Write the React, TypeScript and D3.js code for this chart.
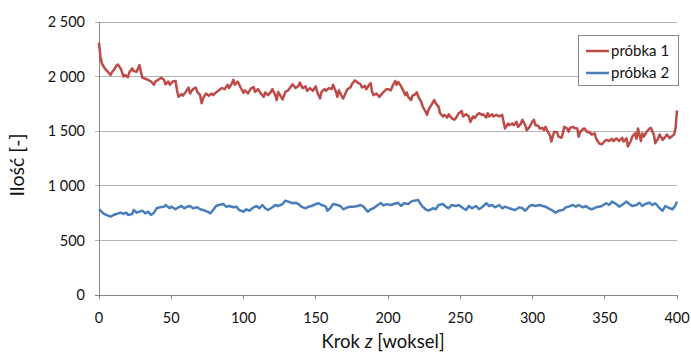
import React from 'react';
import * as d3 from 'd3';

// [krok z, ilość]
const probka1: [number, number][] = [
  [0,2310],[1,2180],[2,2120],[4,2075],[6,2045],[8,2015],[9,2040],[11,2075],[12,2100],[13,2110],[15,2075],[17,2000],[18,2015],[20,1995],[21,2040],[23,2075],[24,2050],[26,2045],[28,2105],[29,2045],[30,1990],[32,1980],[34,1970],[36,1955],[38,1925],[39,1955],[41,1970],[43,1990],[45,1970],[46,1930],[48,1955],[49,1925],[51,1955],[53,1960],[54,1875],[55,1815],[57,1840],[58,1825],[60,1860],[62,1900],[63,1845],[65,1885],[67,1900],[68,1860],[70,1830],[71,1755],[72,1800],[74,1845],[76,1825],[78,1845],[79,1830],[81,1855],[83,1875],[85,1895],[87,1885],[89,1925],[90,1895],[92,1940],[93,1970],[94,1925],[96,1955],[98,1900],
  [100,1850],[101,1875],[103,1845],[105,1890],[107,1905],[108,1860],[110,1885],[112,1845],[114,1815],[115,1855],[117,1830],[119,1860],[120,1885],[122,1830],[123,1785],[124,1860],[126,1815],[127,1790],[129,1860],[131,1875],[132,1895],[134,1930],[136,1895],[138,1915],[139,1945],[141,1895],[143,1910],[144,1870],[146,1895],[148,1870],[150,1910],[151,1860],[153,1800],[154,1860],[156,1885],[157,1870],[159,1895],[161,1885],[162,1925],[164,1860],[165,1815],[166,1875],[168,1820],[169,1800],[171,1860],[172,1885],[174,1900],[175,1930],[177,1965],[179,1945],[181,1930],[182,1900],[184,1915],[185,1885],[187,1925],[188,1940],[189,1860],[190,1830],[192,1845],[194,1815],[195,1830],[197,1860],[199,1885],
  [200,1885],[202,1875],[203,1910],[205,1960],[206,1925],[207,1950],[209,1915],[210,1885],[211,1860],[212,1830],[213,1855],[214,1815],[216,1785],[217,1825],[219,1840],[220,1855],[221,1815],[223,1770],[224,1725],[226,1680],[227,1650],[228,1695],[230,1740],[232,1785],[233,1755],[235,1725],[236,1665],[238,1635],[239,1650],[241,1625],[242,1655],[244,1620],[246,1605],[247,1620],[249,1665],[251,1685],[252,1635],[254,1655],[256,1635],[257,1585],[259,1635],[260,1620],[262,1655],[263,1665],[265,1650],[266,1655],[268,1625],[269,1665],[270,1635],[272,1655],[273,1635],[275,1650],[277,1635],[279,1650],[280,1585],[281,1525],[283,1570],[284,1555],[286,1570],[287,1555],[289,1585],[290,1540],[292,1570],[293,1605],[295,1555],[296,1510],[298,1540],
  [300,1590],[301,1605],[302,1555],[304,1550],[305,1525],[307,1530],[308,1510],[309,1540],[310,1510],[312,1465],[313,1405],[314,1450],[315,1495],[317,1490],[318,1450],[320,1440],[321,1480],[322,1540],[324,1525],[325,1495],[326,1530],[328,1540],[329,1530],[331,1525],[332,1450],[333,1495],[335,1520],[336,1525],[338,1490],[339,1495],[341,1470],[343,1480],[344,1435],[346,1390],[348,1380],[350,1410],[351,1420],[353,1410],[355,1430],[356,1410],[358,1435],[360,1410],[362,1440],[363,1405],[365,1435],[366,1360],[368,1410],[369,1450],[371,1480],[372,1430],[373,1525],[375,1410],[376,1480],[377,1450],[379,1495],[381,1525],[382,1530],[384,1465],[385,1390],[387,1435],[388,1470],[390,1420],[392,1450],[393,1470],[395,1435],[396,1450],[398,1470],[399,1530],[400,1690],
];

const probka2: [number, number][] = [
  [0,785],[3,748],[5,733],[8,717],[10,733],[12,742],[15,754],[17,742],[19,754],[20,733],[23,742],[24,778],[26,754],[28,763],[30,772],[32,748],[34,763],[36,733],[38,754],[40,794],[42,803],[45,809],[46,824],[49,794],[50,809],[53,785],[55,803],[57,815],[59,794],[61,809],[63,815],[65,794],[68,803],[70,785],[72,778],[75,763],[77,748],[79,778],[81,815],[83,824],[86,833],[88,809],[90,815],[93,803],[95,809],[97,778],
  [100,763],[102,785],[104,772],[107,803],[109,815],[111,794],[113,824],[115,794],[117,778],[120,803],[122,824],[124,815],[127,833],[129,864],[131,855],[134,840],[136,845],[138,833],[140,809],[143,794],[145,809],[147,815],[150,833],[152,840],[154,824],[157,809],[158,772],[160,794],[162,833],[165,824],[167,815],[169,785],[172,803],[174,809],[176,809],[179,815],[181,824],[183,809],[186,763],[188,785],[190,794],[192,815],[195,842],[197,820],[199,832],
  [202,824],[204,833],[207,845],[209,815],[211,840],[214,833],[216,855],[218,864],[221,870],[222,845],[224,809],[226,785],[228,772],[231,794],[233,785],[235,824],[238,833],[240,809],[242,794],[244,824],[247,815],[249,824],[251,803],[254,778],[256,815],[258,794],[261,815],[263,785],[265,803],[268,840],[270,815],[272,824],[274,803],[277,824],[279,794],[281,809],[284,794],[286,785],[288,778],[291,803],[293,794],[295,772],[298,815],
  [300,824],[302,815],[305,824],[307,815],[309,809],[311,794],[314,772],[316,754],[318,772],[321,778],[323,803],[325,809],[328,824],[330,809],[332,824],[335,803],[337,815],[339,794],[341,785],[344,803],[346,809],[348,815],[351,840],[353,824],[355,855],[358,833],[360,809],[362,824],[365,855],[367,833],[369,815],[372,824],[374,845],[376,815],[378,833],[381,845],[383,824],[385,840],[388,794],[390,772],[392,815],[395,794],[397,785],[399,824],[400,855],
];

const xTicks = [0, 50, 100, 150, 200, 250, 300, 350, 400];
const yTicks = [0, 500, 1000, 1500, 2000, 2500];
const seriesNames = ['próbka 1', 'próbka 2'];
const seriesColors = ['#be4b48', '#4a7ebb'];

const W = 691;
const H = 353;
const plot = { left: 99, right: 677, top: 22, bottom: 295 };
const font = 'Lato, "Open Sans", sans-serif';
const ink = '#111';

const fmt = (v: number) => d3.format(',')(v).replace(/,/g, ' ');

export default function App() {
  const x = d3.scaleLinear().domain([0, 400]).range([plot.left, plot.right]);
  const y = d3.scaleLinear().domain([0, 2500]).range([plot.bottom, plot.top]);
  const line = d3.line<[number, number]>().x(d => x(d[0])).y(d => y(d[1]));
  const series = [probka1, probka2];

  return (
    <svg width={W} height={H} style={{ position: 'absolute', left: 0, top: 0, background: '#fff' }} fontFamily={font}>
      {/* grid */}
      {yTicks.map(t => (
        <line key={t} x1={plot.left - 4} x2={plot.right} y1={y(t)} y2={y(t)}
          stroke={t === 0 ? '#868686' : '#b3b3b3'} strokeWidth={1} shapeRendering="crispEdges" />
      ))}
      <line x1={plot.left} x2={plot.left} y1={plot.top} y2={plot.bottom} stroke="#868686" shapeRendering="crispEdges" />
      {xTicks.map(t => (
        <line key={t} x1={x(t)} x2={x(t)} y1={plot.bottom} y2={plot.bottom + 4} stroke="#868686" shapeRendering="crispEdges" />
      ))}

      {/* tick labels */}
      {yTicks.map(t => (
        <text key={t} x={plot.left - 14} y={y(t)} dy="0.36em" textAnchor="end" fontSize={14.5} fill={ink}>{fmt(t)}</text>
      ))}
      {xTicks.map(t => (
        <text key={t} x={x(t)} y={plot.bottom + 28} textAnchor="middle" fontSize={14.5} fill={ink}>{t}</text>
      ))}

      {/* axis titles */}
      <text x={383} y={348} textAnchor="middle" fontSize={18.5} fill={ink}>
        Krok <tspan fontStyle="italic">z</tspan> [woksel]
      </text>
      <text transform="translate(24,165) rotate(-90)" textAnchor="middle" fontSize={19.5} fill={ink}>Ilość [-]</text>

      {/* series */}
      {series.map((s, i) => (
        <path key={i} d={line(s) || ''} fill="none" stroke={seriesColors[i]} strokeWidth={2.5} strokeLinejoin="round" />
      ))}

      {/* legend */}
      <rect x={578.5} y={35.5} width={100} height={50} fill="#fff" stroke="#868686" />
      {seriesNames.map((n, i) => (
        <g key={n}>
          <line x1={586} x2={609} y1={51 + i * 22} y2={51 + i * 22} stroke={seriesColors[i]} strokeWidth={2.5} />
          <text x={611} y={51 + i * 22} dy="0.36em" fontSize={15} fill={ink}>{n}</text>
        </g>
      ))}
    </svg>
  );
}
